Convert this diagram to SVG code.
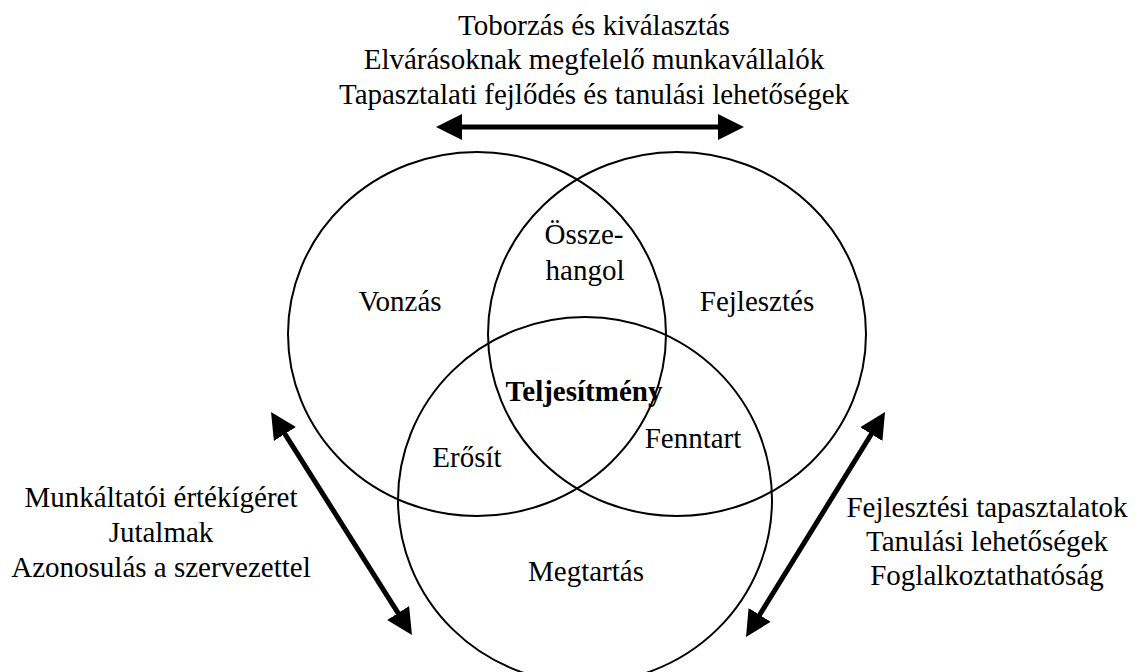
<svg xmlns="http://www.w3.org/2000/svg" width="1139" height="672" viewBox="0 0 1139 672">
  <style>
    text { font-family: "Liberation Serif", "Times New Roman", serif; font-size: 29px; fill: #000; text-anchor: middle; }
    .bold { font-weight: bold; }
    .ring { fill: none; stroke: #000; stroke-width: 2; }
    .arrow { stroke: #000; stroke-width: 5; fill: none; marker-start: url(#head); marker-end: url(#head); }
  </style>
  <defs>
    <marker id="head" viewBox="0 -13 26 26" refX="6" refY="0" markerWidth="26" markerHeight="26" markerUnits="userSpaceOnUse" orient="auto-start-reverse">
      <path d="M0,-13 L26,0 L0,13 z" fill="#000"/>
    </marker>
  </defs>
  <rect width="1139" height="672" fill="#fff"/>

  <!-- three overlapping rings -->
  <g id="vonzas">
    <ellipse class="ring" cx="477" cy="334" rx="189" ry="182"/>
    <text x="400" y="311">Vonzás</text>
  </g>
  <g id="fejlesztes">
    <ellipse class="ring" cx="677" cy="334" rx="189" ry="182"/>
    <text x="757" y="311">Fejlesztés</text>
  </g>
  <g id="megtartas">
    <ellipse class="ring" cx="585" cy="500" rx="187" ry="183"/>
    <text x="586" y="581">Megtartás</text>
  </g>

  <!-- overlap labels -->
  <g id="osszehangol">
    <text x="584" y="244">Össze-</text>
    <text x="585" y="280">hangol</text>
  </g>
  <g id="teljesitmeny">
    <text class="bold" x="584" y="401">Teljesítmény</text>
  </g>
  <g id="erosit">
    <text x="467" y="467">Erősít</text>
  </g>
  <g id="fenntart">
    <text x="693" y="448">Fenntart</text>
  </g>

  <!-- side captions -->
  <g id="caption-top">
    <text x="594" y="35">Toborzás és kiválasztás</text>
    <text x="594" y="69">Elvárásoknak megfelelő munkavállalók</text>
    <text x="594" y="104">Tapasztalati fejlődés és tanulási lehetőségek</text>
  </g>
  <g id="caption-left">
    <text x="161" y="507">Munkáltatói értékígéret</text>
    <text x="161" y="542">Jutalmak</text>
    <text x="161" y="577">Azonosulás a szervezettel</text>
  </g>
  <g id="caption-right">
    <text x="987" y="517">Fejlesztési tapasztalatok</text>
    <text x="987" y="551">Tanulási lehetőségek</text>
    <text x="987" y="585">Foglalkoztathatóság</text>
  </g>

  <!-- double-headed arrows -->
  <g id="connectors">
    <line class="arrow" x1="456" y1="127" x2="724" y2="127"/>
    <line class="arrow" x1="281.7" y1="428.9" x2="401.3" y2="618.1"/>
    <line class="arrow" x1="874.5" y1="429" x2="756.5" y2="620"/>
  </g>
</svg>
